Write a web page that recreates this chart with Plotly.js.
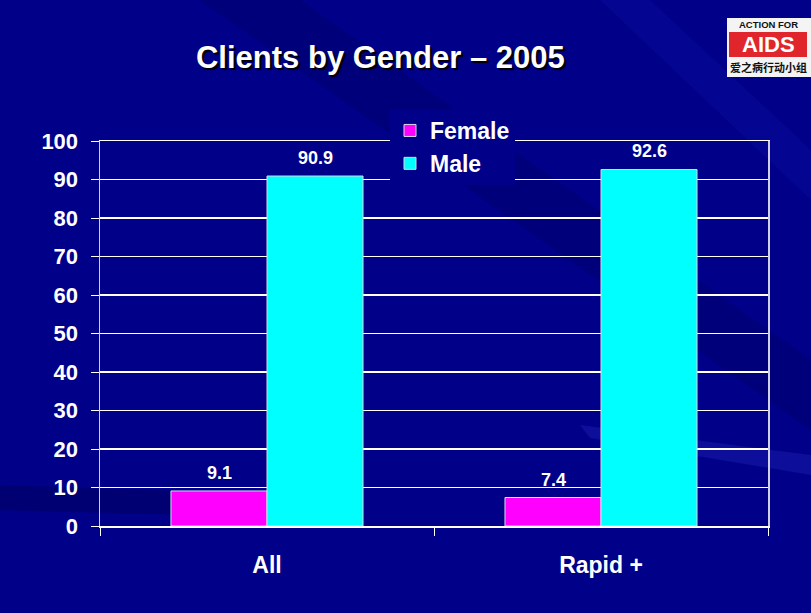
<!DOCTYPE html>
<html>
<head>
<meta charset="utf-8">
<script src="https://cdn.plot.ly/plotly-3.0.1.min.js"></script>
<style>html,body{margin:0;padding:0;background:#000088;}#chart{width:811px;height:613px;}</style>
</head>
<body>
<div id="chart"></div>
<script>
// ---- data ----
const categories = ["All", "Rapid +"];
const femaleValues = [9.1, 7.4];
const maleValues = [90.9, 92.6];
const seriesNames = ["Female", "Male"];
const yTicks = [0, 10, 20, 30, 40, 50, 60, 70, 80, 90, 100];
const titleText = "Clients by Gender \u2013 2005";

// ---- layout helpers ----
const W = 811, H = 613;
const M = {l: 100, r: 43, t: 141, b: 87};
const PW = W - M.l - M.r, PH = H - M.t - M.b;
const px = x => (x - M.l) / PW;
const py = y => (H - M.b - y) / PH;

const NARROW = "Liberation Sans Narrow, Arial Narrow, Liberation Sans, Arial, sans-serif";
const SANS = "Liberation Sans, Arial, sans-serif";

const traces = [
  {type: "bar", name: seriesNames[0], x: categories, y: femaleValues,
   marker: {color: "#FF00FF", line: {color: "#d8d8e8", width: 1}}, hoverinfo: "y"},
  {type: "bar", name: seriesNames[1], x: categories, y: maleValues,
   marker: {color: "#00FFFF", line: {color: "#d8d8e8", width: 1}}, hoverinfo: "y"}
];

const annotations = [];
[femaleValues, maleValues].forEach((vals, si) => {
  vals.forEach((v, ci) => {
    annotations.push({
      x: categories[ci], y: v, xref: "x", yref: "y",
      xshift: si === 0 ? -48 : 48, yshift: 18,
      text: v.toFixed(1), showarrow: false,
      font: {family: NARROW, size: 18, color: "#ffffff", weight: "bold"}
    });
  });
});

// logo texts
const logoText = (y, text, size, color, family) => annotations.push({
  xref: "paper", yref: "paper", x: px(768), y: py(y), xanchor: "center", yanchor: "middle",
  text: text, showarrow: false, borderpad: 0,
  font: {family: family, size: size, color: color, weight: "bold"}});
logoText(25, "ACTION FOR", 9.5, "#111111", SANS);
logoText(45, "AIDS", 22, "#ffffff", SANS);
logoText(67, "爱之病行动小组", 11, "#111111", "Noto Sans CJK SC");

const shapes = [
  // background streaks
  {type: "path", xref: "paper", yref: "paper", layer: "below",
   path: `M ${px(200)} ${py(0)} L ${px(300)} ${py(0)} L ${px(811)} ${py(360)} L ${px(811)} ${py(430)} Z`,
   fillcolor: "rgba(0,0,60,0.18)", line: {width: 0}},
  {type: "path", xref: "paper", yref: "paper", layer: "below",
   path: `M ${px(600)} ${py(0)} L ${px(650)} ${py(0)} L ${px(811)} ${py(150)} L ${px(811)} ${py(200)} Z`,
   fillcolor: "rgba(30,40,200,0.15)", line: {width: 0}},
  {type: "path", xref: "paper", yref: "paper", layer: "below",
   path: `M ${px(580)} ${py(425)} L ${px(811)} ${py(455)} L ${px(811)} ${py(475)} L ${px(590)} ${py(438)} Z`,
   fillcolor: "rgba(60,70,220,0.22)", line: {width: 0}},
  {type: "path", xref: "paper", yref: "paper", layer: "below",
   path: `M ${px(0)} ${py(485)} L ${px(300)} ${py(495)} L ${px(300)} ${py(518)} L ${px(0)} ${py(510)} Z`,
   fillcolor: "rgba(0,0,50,0.25)", line: {width: 0}},
  // logo
  {type: "rect", xref: "paper", yref: "paper", x0: px(727), x1: px(811), y0: py(18), y1: py(77),
   fillcolor: "#f4f4f4", line: {width: 0}},
  {type: "rect", xref: "paper", yref: "paper", x0: px(729), x1: px(807), y0: py(32), y1: py(57),
   fillcolor: "#e0262c", line: {width: 0}}
];

const layout = {
  width: W, height: H,
  margin: M,
  paper_bgcolor: "#000088",
  plot_bgcolor: "rgba(0,0,0,0)",
  title: {text: titleText, x: 0.469, xanchor: "center", y: 1 - 57 / H, yanchor: "middle",
          font: {family: SANS, size: 31, color: "#ffffff", weight: "bold", shadow: "2px 2px 1px #000000"}},
  barmode: "group",
  bargap: 0.425,
  bargroupgap: 0,
  showlegend: true,
  legend: {x: px(390), y: py(109), xanchor: "left", yanchor: "top",
           bgcolor: "#000088", borderwidth: 0,
           font: {family: NARROW, size: 23, color: "#ffffff", weight: "bold"},
           itemwidth: 30, traceorder: "normal"},
  xaxis: {type: "category", showgrid: false, showline: true, linecolor: "#ffffff", linewidth: 1.5,
          mirror: true,
          ticks: "outside", tickson: "boundaries", ticklen: 8, tickcolor: "#ffffff", tickwidth: 1,
          ticklabelstandoff: 18,
          tickfont: {family: NARROW, size: 23, color: "#ffffff", weight: "bold"}, fixedrange: true},
  yaxis: {range: [0, 100], tickvals: yTicks, showgrid: true, gridcolor: "#ffffff", gridwidth: 1.5,
          showline: true, linecolor: "#d0d0e0", linewidth: 1.5, mirror: true,
          ticks: "outside", ticklen: 8, tickcolor: "#ffffff", zeroline: false,
          ticklabelstandoff: 8,
          tickfont: {family: NARROW, size: 22, color: "#ffffff", weight: "bold"}, fixedrange: true},
  annotations: annotations,
  shapes: shapes
};

Plotly.newPlot("chart", traces, layout, {displayModeBar: false, staticPlot: true});
</script>
</body>
</html>
